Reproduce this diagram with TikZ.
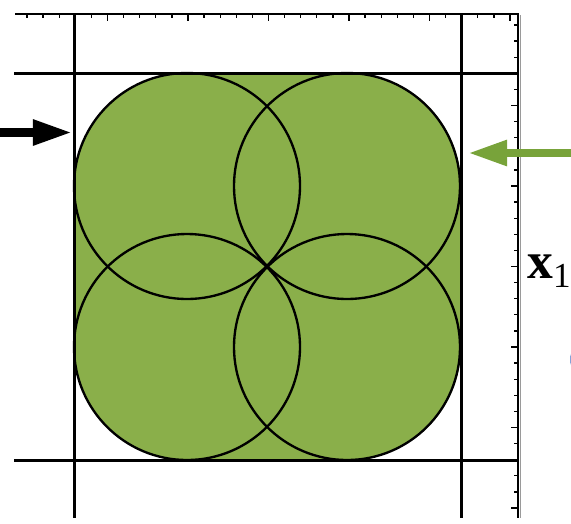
\documentclass[tikz,border=0pt]{standalone}
\usepackage{fontspec}
\setmainfont{Liberation Serif}
\definecolor{areagreen}{HTML}{8AAF4A}
\definecolor{arrowgreen}{HTML}{78A33A}
\definecolor{rulergray}{HTML}{9A9A9A}
\definecolor{markblue}{HTML}{4472C4}
\usetikzlibrary{arrows.meta}

\begin{document}
\begin{tikzpicture}[x=0.03cm,y=-0.03cm,
  frameline/.style={line width=0.09cm},
  ring/.style={draw=black,line width=0.07cm},
  ruler/.style={line width=0.045cm},
  tick/.style={line width=0.04cm},
  bigarrow/.style={-{Triangle[length=1.17cm,width=0.72cm]},line width=0.25cm}
]
  \useasboundingbox (0,0) rectangle (571,523);

  % rulers
  \draw[rulergray,line width=0.04cm] (520.5,15) -- (520.5,518);
  \draw[ruler] (15,14) -- (519,14);
  \draw[ruler] (518,14) -- (518,518);
  \foreach \k in {0,...,30} {
    \pgfmathsetmacro{\len}{and(mod(\k,5)==0,\k>0) ? 7 : 4}
    \draw[tick] (27+16.1*\k,14) -- ++(0,\len);
    \draw[tick] (518,25+16.1*\k) -- ++(-\len,0);
  }

  % green area and rings
  \fill[areagreen,rounded corners=3.39cm] (74,73) rectangle (461,460);
  \foreach \cx/\cy in {187/186,347/186,187/347,347/347}
    \draw[ring] (\cx,\cy) circle[radius=113];

  % frame lines
  \draw[frameline] (74,14) -- (74,518);
  \draw[frameline] (461,14) -- (461,518);
  \draw[frameline] (14,73) -- (519,73);
  \draw[frameline] (14,460) -- (519,460);

  % arrows
  \coordinate (leftstart) at (0,132.5);
  \coordinate (lefthit) at (72,132.5);
  \draw[bigarrow,black] (leftstart) -- (lefthit);
  \coordinate (rightstart) at (571,153);
  \coordinate (righthit) at (468,153);
  \draw[bigarrow,arrowgreen] (rightstart) -- (righthit);

  % label
  \node[anchor=base west,inner sep=0,font=\fontsize{44}{44}\selectfont\bfseries]
    (xlabel) at (527,278) {x\raisebox{-8pt}{\fontsize{30}{30}\selectfont\mdseries 1}};
  \draw[markblue,line width=0.06cm] (575,347) .. controls (570,355) and (570,364) .. (575,372);
\end{tikzpicture}
\end{document}
